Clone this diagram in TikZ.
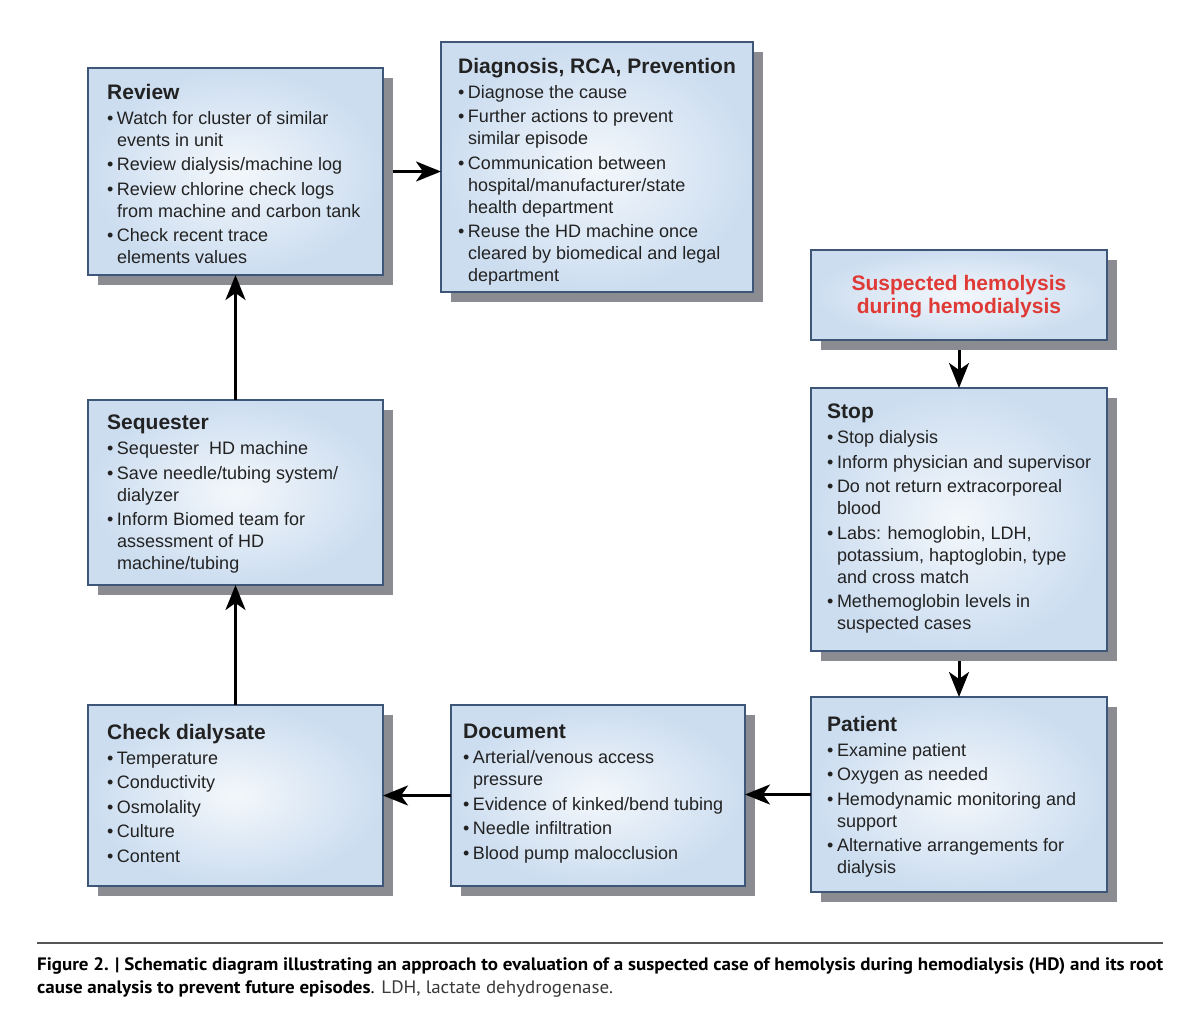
\documentclass[tikz,border=0pt]{standalone}
\usepackage{fontspec}
\usepackage{graphicx}
\setmainfont{Liberation Sans}
\newfontfamily\capfont{PT Sans}
\usetikzlibrary{arrows.meta,shadows}
\definecolor{boxborder}{HTML}{3E5677}
\definecolor{boxouter}{HTML}{CCDDF0}
\definecolor{boxinner}{HTML}{F3F7FB}
\definecolor{shadowgray}{HTML}{8A8C92}
\definecolor{redtxt}{HTML}{E03A36}
\definecolor{bodytxt}{HTML}{222222}
\definecolor{capgray}{HTML}{3A3A3A}
\definecolor{rulegray}{HTML}{555555}
\newcommand\myb{\textbullet\hspace{3.5pt}}
\newcommand\myc{\hspace*{10pt}}
\newcommand\myt[1]{{\fontsize{21}{22}\selectfont\bfseries #1}}
\tikzset{
  box/.style={draw=boxborder, line width=1.5pt, inner color=boxinner, outer color=boxouter,
    general shadow={shadow xshift=10pt, shadow yshift=-10pt, fill=shadowgray},
    anchor=north west, inner sep=0pt, outer sep=0pt},
  boxtext/.style={anchor=north west, inner sep=0pt, align=left, text=bodytxt,
    font=\fontsize{18}{22}\selectfont},
  conn/.style={line width=3pt, -{Stealth[length=25pt,width=20pt,inset=7pt]}},
}
\begin{document}
\begin{tikzpicture}[x=1pt,y=-1pt]
\fill[white] (0,0) rectangle (1200,1030);
\useasboundingbox (0,0) rectangle (1200,1030);

% boxes
\node[box, minimum width=295pt, minimum height=207pt] (rev) at (88,68) {};
\node[box, minimum width=312pt, minimum height=250pt] (diag) at (441,42) {};
\node[box, minimum width=296pt, minimum height=90pt] (sus) at (811,250) {};
\node[box, minimum width=296pt, minimum height=263pt] (stop) at (811,388) {};
\node[box, minimum width=295pt, minimum height=185pt] (seq) at (88,400) {};
\node[box, minimum width=295pt, minimum height=181pt] (chk) at (88,705) {};
\node[box, minimum width=294pt, minimum height=181pt] (doc) at (451,705) {};
\node[box, minimum width=296pt, minimum height=195pt] (pat) at (811,697) {};

% texts
\node[boxtext] (revt) at (107,84) {\myt{Review}\\[3pt]
\myb Watch for cluster of similar\\
\myc events in unit\\[2.5pt]
\myb Review dialysis/machine log\\[2.5pt]
\myb Review chlorine check logs\\
\myc from machine and carbon tank\\[2.5pt]
\myb Check recent trace\\
\myc elements values};

\node[boxtext] (diagt) at (458,58) {\myt{Diagnosis, RCA, Prevention}\\[3pt]
\myb Diagnose the cause\\[2.5pt]
\myb Further actions to prevent\\
\myc similar episode\\[2.5pt]
\myb Communication between\\
\myc hospital/manufacturer/state\\
\myc health department\\[2.5pt]
\myb Reuse the HD machine once\\
\myc cleared by biomedical and legal\\
\myc department};

\node[align=center, inner sep=0pt, text=redtxt, font=\fontsize{21}{23}\selectfont\bfseries] (sust) at (959,297) {Suspected hemolysis\\during hemodialysis};

\node[boxtext] (stopt) at (827,404) {\myt{Stop}\\[3pt]
\myb Stop dialysis\\[2.5pt]
\myb Inform physician and supervisor\\[2.5pt]
\myb Do not return extracorporeal\\
\myc blood\\[2.5pt]
\myb Labs: hemoglobin, LDH,\\
\myc potassium, haptoglobin, type\\
\myc and cross match\\[2.5pt]
\myb Methemoglobin levels in\\
\myc suspected cases};

\node[boxtext] (seqt) at (107,415) {\myt{Sequester}\\[3pt]
\myb Sequester\ \ HD machine\\[2.5pt]
\myb Save needle/tubing system/\\
\myc dialyzer\\[2.5pt]
\myb Inform Biomed team for\\
\myc assessment of HD\\
\myc machine/tubing};

\node[boxtext] (chkt) at (107,724) {\myt{Check dialysate}\\[3pt]
\myb Temperature\\[2.5pt]
\myb Conductivity\\[2.5pt]
\myb Osmolality\\[2.5pt]
\myb Culture\\[2.5pt]
\myb Content};

\node[boxtext] (doct) at (463,724) {\myt{Document}\\[3pt]
\myb Arterial/venous access\\
\myc pressure\\[2.5pt]
\myb Evidence of kinked/bend tubing\\[2.5pt]
\myb Needle infiltration\\[2.5pt]
\myb Blood pump malocclusion};

\node[boxtext] (patt) at (827,716) {\myt{Patient}\\[3pt]
\myb Examine patient\\[2.5pt]
\myb Oxygen as needed\\[2.5pt]
\myb Hemodynamic monitoring and\\
\myc support\\[2.5pt]
\myb Alternative arrangements for\\
\myc dialysis};

% connectors
\draw[conn, shorten <=10pt] (rev.east) -- (rev.east -| diag.west);
\draw[conn] (seq.north) -- (rev.south);
\draw[conn] (chk.north) -- (seq.south);
\draw[conn, shorten <=10pt] (sus.south) -- (stop.north);
\draw[conn, shorten <=10pt] (stop.south) -- (pat.north);
\draw[conn] (pat.west) -- (pat.west -| doc.east);
\draw[conn] (doc.west) -- (doc.west -| chk.east);

% caption
\coordinate (rl) at (37,943);
\coordinate (rr) at (1163,943);
\draw[rulegray, line width=2pt] (rl) -- (rr);
\node[anchor=north west, inner sep=0pt] (cap) at (37,954) {\resizebox{1126pt}{\height}{\capfont\fontsize{18}{23}\selectfont
\begin{tabular}{@{}l@{}}
\textbf{Figure 2. | Schematic diagram illustrating an approach to evaluation of a suspected case of hemolysis during hemodialysis (HD) and its root}\\
\textbf{cause analysis to prevent future episodes}. {\color{capgray}LDH, lactate dehydrogenase.}
\end{tabular}}};
\end{tikzpicture}
\end{document}
